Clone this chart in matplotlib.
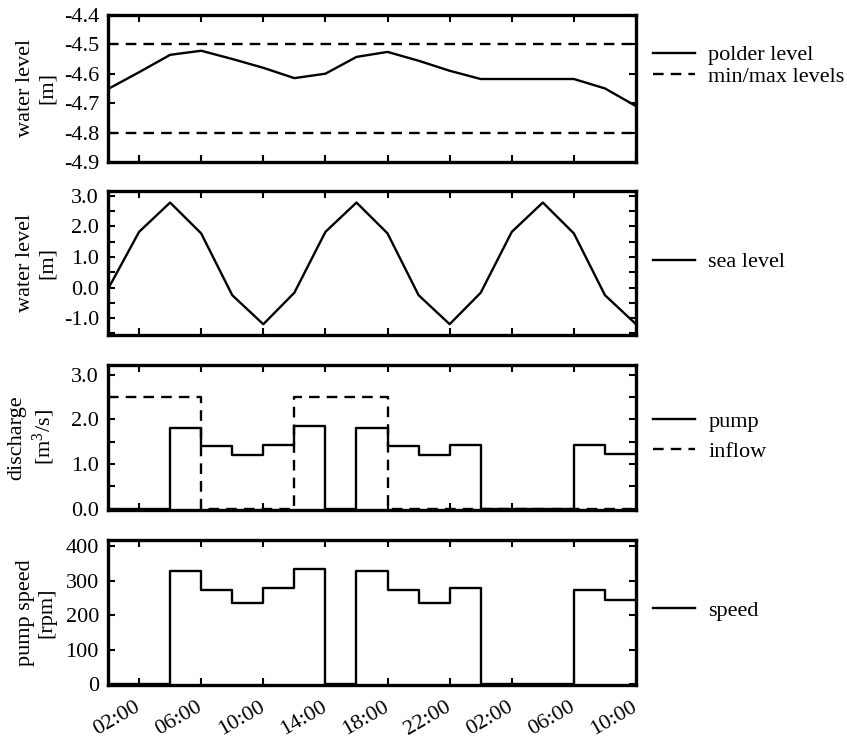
#!/usr/bin/env python

import matplotlib
matplotlib.use('Agg')
import matplotlib.pyplot as plt
from matplotlib.ticker import FixedLocator, MultipleLocator, FormatStrFormatter

# time axis, hours from midnight of the first day
hours = [0, 2, 4, 6, 8, 10, 12, 14, 16, 18, 20, 22, 24, 26, 28, 30, 32, 34]
tick_hours = [2, 6, 10, 14, 18, 22, 26, 30, 34]
tick_labels = ['02:00', '06:00', '10:00', '14:00', '18:00', '22:00',
               '02:00', '06:00', '10:00']

# polder water level [m]
polder_level = [-4.652, -4.595, -4.536, -4.522, -4.55, -4.58, -4.615, -4.60,
                -4.543, -4.526, -4.556, -4.59, -4.618, -4.618, -4.618,
                -4.618, -4.65, -4.71]
min_level = -4.8
max_level = -4.5

# sea water level [m]
sea_level = [-0.05, 1.82, 2.78, 1.77, -0.25, -1.2, -0.17, 1.82, 2.78, 1.77,
             -0.25, -1.2, -0.17, 1.82, 2.78, 1.77, -0.25, -1.2]

# discharge [m3/s], value holds from the given hour until the next one
pump_q = [0.0, 0.0, 1.81, 1.39, 1.19, 1.43, 1.86, 0.0, 1.81, 1.39, 1.19,
          1.43, 0.0, 0.0, 0.0, 1.43, 1.22, 1.22]
inflow_q = [2.5, 2.5, 2.5, 0.0, 0.0, 0.0, 2.5, 2.5, 2.5, 0.0, 0.0, 0.0,
            0.0, 0.0, 0.0, 0.0, 0.0, 0.0]

# pump speed [rpm]
pump_rpm = [0, 0, 330, 272, 237, 280, 335, 0, 330, 272, 237, 280, 0, 0, 0,
            272, 245, 245]

LW = 1.7
DASH = (4.5, 3)


def style_axes(ax, show_xlabels):
  ax.set_xlim(0, 34)
  ax.xaxis.set_major_locator(FixedLocator(tick_hours))
  if show_xlabels:
    ax.set_xticklabels(tick_labels, rotation=30, ha='right', va='center',
                       rotation_mode='anchor')
  else:
    ax.set_xticklabels([])
  ax.tick_params(which='both', direction='in', top=True, right=True,
                 length=5, width=1.5)
  ax.tick_params(axis='y', pad=6.5)
  ax.tick_params(axis='x', pad=15)
  for s in ax.spines.values():
    s.set_linewidth(2.4)
  ax.yaxis.set_label_coords(-0.097, 0.5)


def add_legend(ax, y, spacing=0.0):
  ax.legend(loc='center left', bbox_to_anchor=(1.032, y), frameon=False,
            handlelength=1.9, handletextpad=0.6, borderpad=0,
            borderaxespad=0, labelspacing=spacing, fontsize=16)


def main():
  plt.rcParams['font.family'] = ['Liberation Serif', 'DejaVu Serif']
  plt.rcParams['font.size'] = 16
  plt.rcParams['axes.unicode_minus'] = False
  plt.rcParams['mathtext.fontset'] = 'custom'
  plt.rcParams['mathtext.rm'] = 'Liberation Serif'
  plt.rcParams['mathtext.it'] = 'Liberation Serif'

  fig = plt.figure(figsize=(8.47, 7.4), dpi=100)
  left = 108/847.
  width = 528/847.
  ax1 = fig.add_axes([left, 0.781, width, 0.199])
  ax2 = fig.add_axes([left, 0.547, width, 0.195])
  ax3 = fig.add_axes([left, 0.311, width, 0.196])
  ax4 = fig.add_axes([left, 0.074, width, 0.196])

  # polder level with the allowed band
  ax1.plot(hours, polder_level, 'k-', lw=LW, label='polder level')
  ax1.axhline(max_level, color='k', lw=LW, dashes=DASH, label='min/max levels')
  ax1.axhline(min_level, color='k', lw=LW, dashes=DASH)
  ax1.set_ylim(-4.9, -4.4)
  ax1.yaxis.set_major_locator(MultipleLocator(0.1))
  ax1.yaxis.set_major_formatter(FormatStrFormatter('%.1f'))
  ax1.set_ylabel('water level\n[m]')
  style_axes(ax1, False)
  add_legend(ax1, 0.653, 0.05)

  # tide
  ax2.plot(hours, sea_level, 'k-', lw=LW, label='sea level')
  ax2.set_ylim(-1.56, 3.16)
  ax2.yaxis.set_major_locator(MultipleLocator(1.0))
  ax2.yaxis.set_minor_locator(MultipleLocator(0.5))
  ax2.yaxis.set_major_formatter(FormatStrFormatter('%.1f'))
  ax2.set_ylabel('water level\n[m]')
  style_axes(ax2, False)
  add_legend(ax2, 0.507)

  # discharges
  ax3.step(hours, pump_q, where='post', color='k', lw=LW, label='pump')
  ax3.step(hours, inflow_q, where='post', color='k', lw=LW, dashes=DASH,
           label='inflow')
  ax3.set_ylim(-0.03, 3.22)
  ax3.yaxis.set_major_locator(MultipleLocator(1.0))
  ax3.yaxis.set_minor_locator(MultipleLocator(0.5))
  ax3.yaxis.set_major_formatter(FormatStrFormatter('%.1f'))
  ax3.set_ylabel('discharge\n[m$^3$/s]')
  style_axes(ax3, False)
  add_legend(ax3, 0.503, 0.42)

  # pump speed
  ax4.step(hours, pump_rpm, where='post', color='k', lw=LW, label='speed')
  ax4.set_ylim(-3, 418)
  ax4.yaxis.set_major_locator(MultipleLocator(100))
  ax4.set_ylabel('pump speed\n[rpm]')
  style_axes(ax4, True)
  add_legend(ax4, 0.517)

  fig.savefig('out.png', dpi=100)
  plt.close()


if __name__ == '__main__':
  main()
